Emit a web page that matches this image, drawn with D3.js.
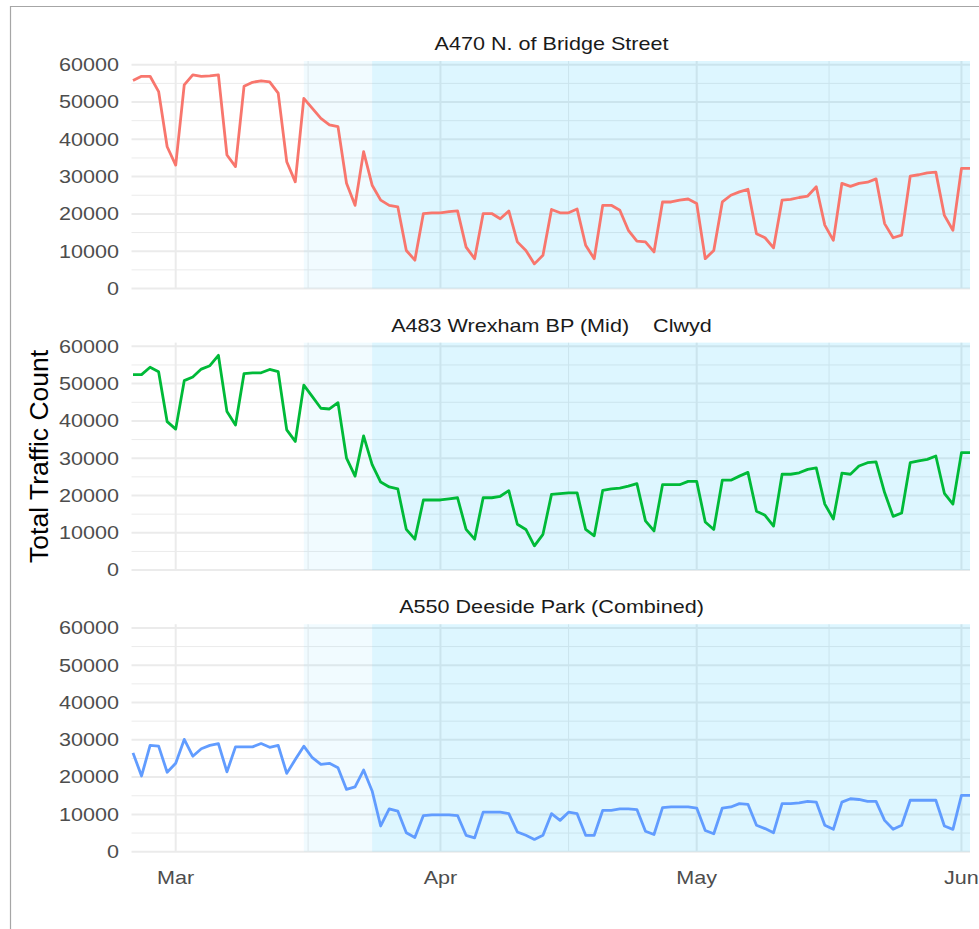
<!DOCTYPE html>
<html>
<head>
<meta charset="utf-8">
<script src="https://cdn.jsdelivr.net/npm/d3@7"></script>
<style>
  html, body { margin: 0; padding: 0; background: #fff; }
  svg { display: block; font-family: "Liberation Sans", Arial, sans-serif; }
</style>
</head>
<body>
<svg id="chart" width="979" height="929"></svg>
<script>
// Daily traffic counts, 25 Feb 2020 – 2 Jun 2020
const firstDay = "2020-02-25";
const lastDay = "2020-06-02";

const siteNames = [
  "A470 N. of Bridge Street",
  "A483 Wrexham BP (Mid)    Clwyd",
  "A550 Deeside Park (Combined)"
];
const siteColors = ["#F8766D", "#00BA38", "#619CFF"];

const a470 = [
  55800, 56900, 56900, 52800, 38000,
  33100, 54600, 57300, 56900, 57000, 57300, 35800, 32700, 54200, 55300, 55700, 55400, 52400, 34000, 28600,
  51000, 48300, 45600, 43900, 43400, 28200, 22300, 36700, 27700, 23700, 22300, 21900, 10200, 7600, 20100, 20300,
  20300, 20600, 20800, 11100, 8000, 20100, 20100, 18700, 20800, 12500, 10200, 6600, 8900, 21200, 20300,
  20300, 21300, 11600, 8000, 22300, 22300, 21000, 15600, 12700, 12500, 9800, 23200, 23200, 23700, 24000,
  22800, 8000, 10200, 23200, 25000, 25900, 26600, 14700, 13600, 10900, 23700, 23900, 24400, 24800, 27300,
  17000, 12900, 28200, 27400, 28200, 28500, 29400, 17400, 13600, 14300, 30100, 30500, 31000, 31200, 19600, 15600,
  32200, 32200
];

const a483 = [
  52400, 52400, 54400, 53200, 39800,
  37800, 50800, 51800, 53900, 54800, 57600, 42500, 38900, 52700, 52900, 52900, 53800, 53200, 37600, 34500,
  49600, 46500, 43400, 43200, 44900, 30000, 25200, 36000, 28300, 23600, 22300, 21800, 10900, 8300, 18800, 18800,
  18800, 19100, 19400, 10900, 8300, 19400, 19400, 19800, 21300, 12300, 10900, 6500, 9600, 20300, 20500,
  20700, 20700, 10900, 9200, 21400, 21800, 22000, 22500, 23200, 13200, 10500, 22900, 22900, 22900, 23800,
  23800, 12900, 10900, 24100, 24100, 25200, 26200, 15800, 14700, 11800, 25700, 25700, 26100, 27000, 27400,
  17700, 13700, 26000, 25700, 27900, 28800, 29000, 20800, 14400, 15300, 28800, 29300, 29700, 30600, 20600, 17700,
  31500, 31500
];

const a550 = [
  26500, 20300, 28500, 28300, 21300,
  23700, 30100, 25600, 27600, 28500, 29000, 21400, 28100, 28100, 28100, 29000, 28000, 28500, 21000, 24700,
  28300, 25200, 23400, 23700, 22500, 16700, 17400, 21900, 16300, 6900, 11500, 10900, 5100, 3800, 9700, 9900,
  9900, 9900, 9700, 4400, 3700, 10600, 10600, 10600, 10200, 5300, 4400, 3300, 4400, 10200, 8400,
  10600, 10200, 4400, 4400, 11100, 11100, 11500, 11500, 11300, 5500, 4600, 11800, 12000, 12000, 12000,
  11700, 5700, 4800, 11700, 12000, 12900, 12700, 7100, 6200, 5100, 12900, 12900, 13100, 13500, 13300,
  7100, 6000, 13300, 14200, 14000, 13500, 13500, 8400, 6000, 7100, 13800, 13800, 13800, 13800, 6900, 6000,
  15100, 15100
];

const yTicks = [0, 10000, 20000, 30000, 40000, 50000, 60000];
const xTickDates = ["2020-03-01", "2020-04-01", "2020-05-01", "2020-06-01"];
const xTickLabels = ["Mar", "Apr", "May", "Jun"];

// Restriction periods shaded behind the lines
const periodStarts = ["2020-03-16", "2020-03-24"];
const periodEnds = ["2020-03-24", "2020-06-02"];
const periodOpacity = [0.055, 0.135];

const seriesValues = [a470, a483, a550];

const parse = d3.timeParse("%Y-%m-%d");
const days = d3.timeDay.range(parse(firstDay), d3.timeDay.offset(parse(lastDay), 1));

const svg = d3.select("#chart");

// wide-set label text: glyphs are widened horizontally around their anchor
const textSize = 17.7, textWiden = 1.22;
function label(parent, px, py, str, anchor, color) {
  return parent.append("text")
    .attr("transform", `translate(${px},${py}) scale(${textWiden},1)`)
    .attr("text-anchor", anchor)
    .attr("font-size", textSize)
    .attr("fill", color)
    .style("white-space", "pre")
    .text(str);
}

// frame around the figure
svg.append("line").attr("x1", 10).attr("x2", 979).attr("y1", 6.5).attr("y2", 6.5)
  .attr("stroke", "#a6a6a6").attr("stroke-width", 1.2);
svg.append("line").attr("x1", 10.5).attr("x2", 10.5).attr("y1", 6).attr("y2", 929)
  .attr("stroke", "#a6a6a6").attr("stroke-width", 1.2);

const left = 133, right = 970;
const panelTops = [61, 342.6, 624.2];
const panelH = 227.5;

const x = d3.scaleTime().domain([parse(firstDay), parse(lastDay)]).range([left, right]);

const majorX = xTickDates.map(parse);
const minorX = d3.pairs(majorX).map(([a, b]) => new Date((+a + +b) / 2));
const minorY = d3.pairs(yTicks).map(([a, b]) => (a + b) / 2);

const gridColor = "#ebebeb";

seriesValues.forEach((vals, i) => {
  const top = panelTops[i];
  const y = d3.scaleLinear().domain([0, 61000]).range([top + panelH, top]);
  const g = svg.append("g");

  // minor grid
  g.selectAll(".hminor").data(minorY).join("line")
    .attr("x1", left - 1.5).attr("x2", right)
    .attr("y1", d => y(d)).attr("y2", d => y(d))
    .attr("stroke", gridColor).attr("stroke-width", 1);
  g.selectAll(".vminor").data(minorX).join("line")
    .attr("x1", d => x(d)).attr("x2", d => x(d))
    .attr("y1", top).attr("y2", top + panelH)
    .attr("stroke", gridColor).attr("stroke-width", 1);
  // major grid
  g.selectAll(".hmajor").data(yTicks).join("line")
    .attr("x1", left - 1.5).attr("x2", right)
    .attr("y1", d => y(d)).attr("y2", d => y(d))
    .attr("stroke", gridColor).attr("stroke-width", 2);
  g.selectAll(".vmajor").data(majorX).join("line")
    .attr("x1", d => x(d)).attr("x2", d => x(d))
    .attr("y1", top).attr("y2", top + panelH)
    .attr("stroke", gridColor).attr("stroke-width", 2);

  // shaded periods
  g.selectAll(".period").data(periodStarts).join("rect")
    .attr("x", (d, k) => x(parse(d)))
    .attr("width", (d, k) => x(parse(periodEnds[k])) - x(parse(d)))
    .attr("y", top).attr("height", panelH)
    .attr("fill", "#00bfff").attr("fill-opacity", (d, k) => periodOpacity[k]);

  // strip title
  label(svg, (left + right) / 2, top - 11, siteNames[i], "middle", "#1a1a1a");

  // y tick labels
  yTicks.forEach(t => label(g, 119, y(t) + 6.3, String(t), "end", "#4d4d4d"));

  // series line
  const line = d3.line().x((d, k) => x(days[k])).y(d => y(d));
  g.append("path").datum(vals)
    .attr("d", line)
    .attr("fill", "none").attr("stroke", siteColors[i])
    .attr("stroke-width", 2.8).attr("stroke-linejoin", "round");

  if (i === seriesValues.length - 1) {
    majorX.forEach((d, k) => label(g, x(d), top + panelH + 32, xTickLabels[k], "middle", "#4d4d4d"));
  }
});

// y axis title
svg.append("text")
  .attr("transform", `translate(48, ${(panelTops[0] + panelTops[2] + panelH) / 2}) rotate(-90)`)
  .attr("text-anchor", "middle").attr("font-size", 26.5).attr("fill", "#000")
  .text("Total Traffic Count");
</script>
</body>
</html>
